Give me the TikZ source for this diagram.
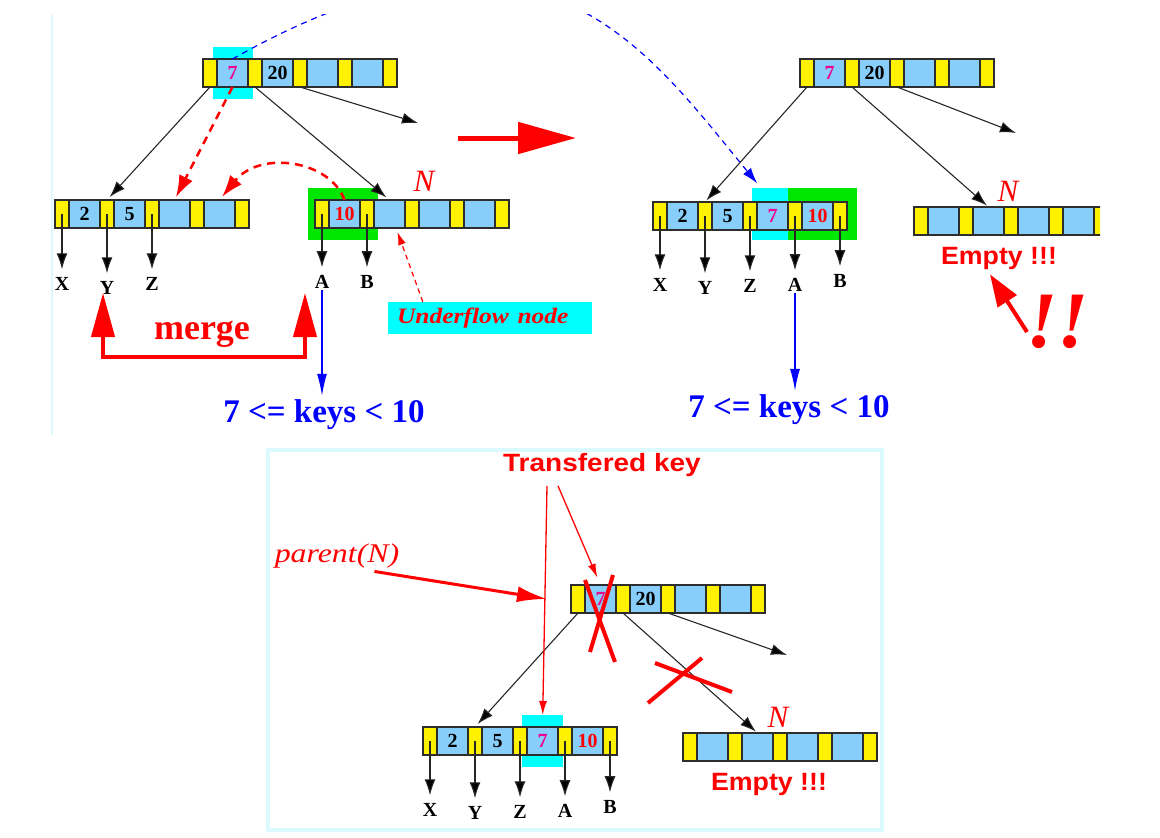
\documentclass[tikz,border=0pt]{standalone}
\usepackage{fontspec}
\usepackage{graphicx}
\setmainfont{Liberation Serif}
\newfontfamily\labelsans{Liberation Sans}
\usetikzlibrary{arrows.meta,positioning,calc,backgrounds}

\definecolor{keyblue}{RGB}{135,206,250}
\definecolor{hlcyan}{RGB}{0,255,255}
\definecolor{hlgreen}{RGB}{0,230,0}
\definecolor{framecyan}{RGB}{218,250,255}
\definecolor{cellline}{RGB}{45,45,45}

\newcommand{\keyfont}{\fontsize{20}{20}\selectfont\bfseries}
\newcommand{\leaffont}{\fontsize{20}{20}\selectfont\bfseries}
\newcommand{\rangefont}{\fontsize{33}{33}\selectfont\bfseries}
\newcommand{\mergefont}{\fontsize{36}{36}\selectfont\bfseries}
\newcommand{\nfont}{\fontsize{31}{31}\selectfont\itshape}
\newcommand{\uflowfont}{\fontsize{22}{22}\selectfont\bfseries\itshape}
\newcommand{\parentfont}{\fontsize{27}{27}\selectfont\itshape}
\newcommand{\bangfont}{\fontsize{80}{80}\selectfont\bfseries\itshape}
\newcommand{\emptyfont}{\labelsans\fontsize{25}{25}\selectfont\bfseries}

\tikzset{
  ptrcell/.style={draw=cellline, line width=1.2pt, fill=yellow, minimum width=14pt,
    minimum height=28pt, inner sep=0pt, outer sep=0pt},
  keycell/.style={ptrcell, fill=keyblue, minimum width=31pt, font=\keyfont},
  childlink/.style={draw=black!85, line width=1.1pt, -{Latex[length=16pt,width=11pt,fill=black]}},
  leaflabel/.style={font=\leaffont, inner sep=1pt},
  movekey/.style={red, line width=2.5pt, dash pattern=on 8pt off 6pt, -{Latex[length=22pt,width=15pt]}},
  hintarrow/.style={red, line width=1.2pt, dash pattern=on 5pt off 4pt, -{Latex[length=13pt,width=8pt]}},
  thinred/.style={red, line width=1.3pt, -{Latex[length=14pt,width=8pt]}},
  rangearrow/.style={blue, line width=1.3pt, -{Latex[length=22pt,width=10pt]}},
  rangetext/.style={blue, font=\rangefont, inner sep=1pt},
  nlabel/.style={red, font=\nfont, inner sep=0pt},
  emptytext/.style={red, font=\emptyfont, inner sep=1pt},
  crossmark/.style={red, line width=4pt},
}

% one B-tree node: name, west point, four keys
\newcommand{\bnode}[3]{%
  \node[ptrcell, anchor=west] (#1-p0) at (#2) {};
  \foreach \keytxt [count=\i, remember=\i as \j (initially 0)] in {#3} {
    \node[keycell, right=0pt of #1-p\j] (#1-k\i) {\keytxt};
    \node[ptrcell, right=0pt of #1-k\i] (#1-p\i) {};
  }%
}
% subtree pointers below a node: label/y
\newcommand{\leaves}[2]{%
  \foreach \lbl/\ly [count=\i from 0] in {#2} {
    \node[leaflabel] (#1-l\i) at (#1-p\i |- 0,\ly) {\lbl};
    \draw[childlink, shorten >=7pt] (#1-p\i.center) -- (#1-l\i.north);
  }%
}

\begin{document}
\begin{tikzpicture}[x=1pt,y=-1pt]
  \useasboundingbox (0,0) rectangle (1160,838);

  % top left
  \draw[framecyan, line width=2pt] (52,15) -- (52,435);
  \bnode{rootA}{203,73}{\textcolor{magenta}{7}, 20, {}, {}}
  \bnode{leftA}{55,214}{2, 5, {}, {}}
  \bnode{nodeN}{315,214}{\textcolor{red}{10}, {}, {}, {}}
  \begin{pgfonlayer}{background}
    \fill[hlcyan] ($(rootA-k1.north west)+(-4,-12)$) rectangle ($(rootA-k1.south east)+(5,12)$);
    \fill[hlgreen] ($(nodeN-p0.north west)+(-7,-12)$) rectangle ($(nodeN-p1.south east)+(4,12)$);
  \end{pgfonlayer}
  \leaves{leftA}{X/284, Y/288, Z/284}
  \leaves{nodeN}{A/282, B/282}
  \coordinate (rootA-out) at (418,123);
  \draw[childlink, shorten >=4pt] (rootA-p0.south) -- (leftA-p1.north);
  \draw[childlink, shorten >=4pt] (rootA-p1.south) -- (nodeN-k2.north);
  \draw[childlink] (rootA-p2.south) -- (rootA-out);
  \draw[movekey, shorten >=3pt] (rootA-k1.south) -- (leftA-k3.north);
  \draw[movekey, shorten >=4pt] (nodeN-k1.north) .. controls (330,160) and (260,150) .. (leftA-k4.north);
  \node[nlabel] (nA) at (424,181) {N};
  \node[fill=hlcyan, text=red, font=\uflowfont, minimum height=32pt, text width=186pt,
    inner xsep=9pt, align=left] (uflow) at (490,318) {\scalebox{1.16}[1]{Underflow node}};
  \draw[hintarrow] ($(uflow.north west)+(35,0)$) -- ($(nodeN-k2.south)+(8,4)$);
  \coordinate (mergeL) at (103,293);
  \coordinate (mergeR) at (305,293);
  \draw[red, line width=4pt, {Triangle[length=44pt,width=23pt]}-{Triangle[length=44pt,width=23pt]}]
    (mergeL) |- ($(mergeR)+(0,64)$) -- (mergeR);
  \node[red, font=\mergefont] (mergelbl) at (202,334) {merge};
  \node[rangetext] (rangeA) at (324,415) {7 <= keys < 10};
  \draw[rangearrow, shorten >=3pt] (nodeN-l0.south) -- (nodeN-l0.south |- rangeA.north);

  % step arrow
  \coordinate (stepfrom) at (458,138);
  \coordinate (stepto) at (576,138);
  \draw[red, line width=5pt, -{Triangle[length=58pt,width=31pt]}] (stepfrom) -- (stepto);

  % top right
  \bnode{rootB}{800,73}{\textcolor{magenta}{7}, 20, {}, {}}
  \bnode{mergedB}{653,216}{2, 5, \textcolor{magenta}{7}, \textcolor{red}{10}}
  \begin{scope}
    \clip (0,0) rectangle (1100,838);
    \bnode{nodeNB}{914,221}{{}, {}, {}, {}}
  \end{scope}
  \begin{pgfonlayer}{background}
    \fill[hlcyan] ($(mergedB-k3.north west)+(-5,-14)$) rectangle ($(mergedB-k3.south east)+(0,10)$);
    \fill[hlgreen] ($(mergedB-p3.north west)+(0,-14)$) rectangle ($(mergedB-p4.south east)+(10,10)$);
  \end{pgfonlayer}
  \leaves{mergedB}{X/285, Y/288, Z/286, A/285, B/281}
  \coordinate (rootB-out) at (1016,133);
  \draw[childlink, shorten >=2pt] (rootB-p0.south) -- (mergedB-p1.north);
  \draw[childlink, shorten >=2pt] (rootB-p1.south) -- (nodeNB-k2.north);
  \draw[childlink] (rootB-p2.south) -- (rootB-out);
  \node[nlabel] (nB) at (1008,191) {N};
  \node[emptytext] (emptyB) at (999,258) {\scalebox{1.07}[1]{Empty !!!}};
  \node[red, font=\bangfont, inner sep=0pt] (bangB) at (1058,322) {!!};
  \coordinate (bangtail) at (1027,332);
  \draw[red, line width=4pt, -{Triangle[length=32pt,width=22pt]}] (bangtail) -- ($(emptyB.south)+(-9,4)$);
  \node[rangetext] (rangeB) at (789,410) {7 <= keys < 10};
  \draw[rangearrow, shorten >=3pt] (mergedB-l3.south) -- (mergedB-l3.south |- rangeB.north);
  \begin{scope}
    \clip (0,14) rectangle (1160,838);
    \draw[blue, line width=1.2pt, dash pattern=on 6pt off 5pt, -{Latex[length=16pt,width=10pt]}, shorten >=24pt]
      (rootA-k1.north) .. controls (537,-113) and (642,43) .. (mergedB-k3.north);
  \end{scope}

  % bottom
  \draw[framecyan, line width=4pt] (268,450) rectangle (882,830);
  \bnode{rootC}{571,599}{\textcolor{magenta}{7}, 20, {}, {}}
  \bnode{leftC}{423,741}{2, 5, \textcolor{magenta}{7}, \textcolor{red}{10}}
  \bnode{nodeNC}{683,747}{{}, {}, {}, {}}
  \begin{pgfonlayer}{background}
    \fill[hlcyan] ($(leftC-k3.north west)+(-5,-12)$) rectangle ($(leftC-k3.south east)+(5,12)$);
  \end{pgfonlayer}
  \leaves{leftC}{X/810, Y/813, Z/812, A/811, B/807}
  \coordinate (rootC-out) at (787,655);
  \draw[childlink, shorten >=4pt] (rootC-p0.south) -- (leftC-p1.north);
  \draw[childlink, shorten >=2pt] (rootC-p1.south) -- (nodeNC-k2.north);
  \draw[childlink] (rootC-p2.south) -- (rootC-out);
  \node[red, font=\emptyfont, inner sep=1pt] (transkey) at (602,465) {\scalebox{1.12}[1]{Transfered key}};
  \draw[thinred, shorten >=12pt] ($(transkey.south)+(-55,8)$) -- (leftC-k3.north);
  \draw[thinred, shorten >=8pt] ($(transkey.south)+(-44,8)$) -- (rootC-k1.north);
  \node[red, font=\parentfont, inner sep=1pt] (parentN) at (337,556) {\scalebox{1.18}[1]{parent(N)}};
  \draw[red, line width=3pt, -{Latex[length=30pt,width=16pt]}] ($(parentN.south east)+(-26,2)$) -- ($(rootC-p0.west)+(-24,0)$);
  \draw[crossmark] (585,580) -- (615,662);
  \draw[crossmark] (613,575) -- (590,652);
  \draw[crossmark] (655,663) -- (732,692);
  \draw[crossmark] (702,658) -- (648,703);
  \node[nlabel] (nC) at (778,717) {N};
  \node[emptytext] (emptyC) at (769,784) {\scalebox{1.07}[1]{Empty !!!}};
\end{tikzpicture}
\end{document}
